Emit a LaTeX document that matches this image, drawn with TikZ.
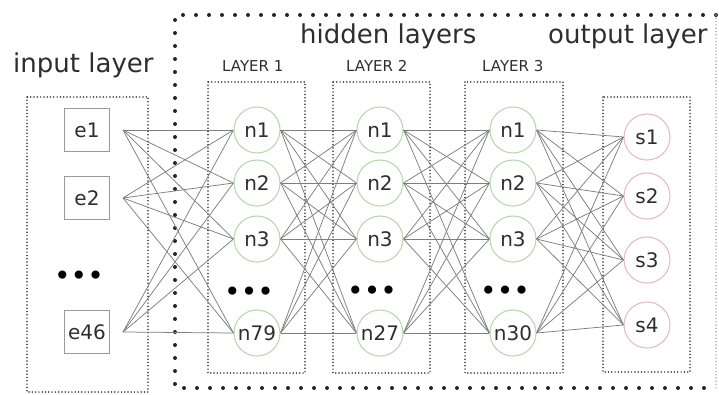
\documentclass[tikz,border=0pt]{standalone}
\usepackage{fontspec}
\setmainfont{DejaVu Sans}
\definecolor{txtgray}{HTML}{2E2E2E}
\definecolor{linegray}{HTML}{7E7E7E}
\definecolor{boxgray}{HTML}{999999}
\definecolor{hidgreen}{HTML}{B8D8B0}
\definecolor{outpink}{HTML}{E6BCC5}
\definecolor{framegray}{HTML}{333333}
\tikzset{
  inbox/.style={draw=boxgray, line width=1pt, minimum width=45pt, minimum height=43pt,
    inner sep=0pt, font=\fontsize{20}{20}\selectfont, text=txtgray},
  hidnode/.style={circle, draw=hidgreen, line width=1.1pt, minimum size=46pt, inner sep=0pt,
    font=\fontsize{20}{20}\selectfont, text=txtgray},
  outnode/.style={hidnode, draw=outpink},
  link/.style={draw=linegray, line width=0.75pt},
  layerbox/.style={draw=framegray, line width=1.7pt, dash pattern=on 0pt off 3.3pt, line cap=round},
  bigframe/.style={draw=black!85, line width=4pt, dash pattern=on 0pt off 13pt, line cap=round},
  heading/.style={font=\fontsize{26}{26}\selectfont, text=txtgray, inner sep=0pt, anchor=base west},
  sublabel/.style={font=\fontsize{15}{15}\selectfont, text=txtgray, inner sep=0pt, anchor=base west},
  moredots/.style={font=\fontsize{28}{28}\selectfont, text=black, inner sep=0pt}
}
\begin{document}
\begin{tikzpicture}[x=1pt, y=-1pt]
      \useasboundingbox (0,0) rectangle (719,394);
      % frames
      \draw[bigframe] (716,15) -- (175,15) -- (175,388) -- (716,388);
      \draw[layerbox, draw=framegray!40] (716,15) -- (716,388);
      \draw[layerbox] (27,97) rectangle (148,392);
      \draw[layerbox] (208,82) rectangle (305,373);
      \draw[layerbox] (333,82) rectangle (430,373);
      \draw[layerbox] (465,82) rectangle (563,373);
      \draw[layerbox] (603,97) rectangle (690,372);
      % titles
      \node[heading] (tin) at (13,72) {input layer};
      \node[heading] (thid) at (300,43) {hidden layers};
      \node[heading] (tout) at (548,43) {output layer};
      \node[sublabel] (tl1) at (222,71) {LAYER 1};
      \node[sublabel] (tl2) at (346,71) {LAYER 2};
      \node[sublabel] (tl3) at (482,71) {LAYER 3};
      % nodes
      \draw
        (87,130) node[inbox] (e1){e1}
        (87,198) node[inbox] (e2){e2}
        (79,278) node[moredots] (ed){•••}
        (87,332) node[inbox] (e46){e46}
        (257,130) node[hidnode] (a1){n1}
        (257,183) node[hidnode] (a2){n2}
        (257,239) node[hidnode] (a3){n3}
        (249,294) node[moredots] (ad){•••}
        (257,333) node[hidnode] (a79){n79}
        (380,130) node[hidnode] (b1){n1}
        (380,183) node[hidnode] (b2){n2}
        (380,239) node[hidnode] (b3){n3}
        (372,293) node[moredots] (bd){•••}
        (380,333) node[hidnode] (b27){n27}
        (513,130) node[hidnode] (c1){n1}
        (513,183) node[hidnode] (c2){n2}
        (513,239) node[hidnode] (c3){n3}
        (505,293) node[moredots] (cd){•••}
        (513,333) node[hidnode] (c30){n30}
        (647,137) node[outnode] (s1){s1}
        (647,196) node[outnode] (s2){s2}
        (647,260) node[outnode] (s3){s3}
        (647,325) node[outnode] (s4){s4};
      \begin{scope}[link]
        \draw ([xshift=13pt]e1.east) to (a1.west);
        \draw ([xshift=13pt]e1.east) to (a2.west);
        \draw ([xshift=13pt]e1.east) to (a3.west);
        \draw ([xshift=13pt]e1.east) to (a79.west);
        \draw ([xshift=13pt]e2.east) to (a1.west);
        \draw ([xshift=13pt]e2.east) to (a2.west);
        \draw ([xshift=13pt]e2.east) to (a3.west);
        \draw ([xshift=13pt]e2.east) to (a79.west);
        \draw ([xshift=13pt]e46.east) to (a1.west);
        \draw ([xshift=13pt]e46.east) to (a2.west);
        \draw ([xshift=13pt]e46.east) to (a3.west);
        \draw ([xshift=13pt]e46.east) to (a79.west);
        \draw (a1.east) to (b1.west);
        \draw (a1.east) to (b2.west);
        \draw (a1.east) to (b3.west);
        \draw (a1.east) to (b27.west);
        \draw (a2.east) to (b1.west);
        \draw (a2.east) to (b2.west);
        \draw (a2.east) to (b3.west);
        \draw (a2.east) to (b27.west);
        \draw (a3.east) to (b1.west);
        \draw (a3.east) to (b2.west);
        \draw (a3.east) to (b3.west);
        \draw (a3.east) to (b27.west);
        \draw (a79.east) to (b1.west);
        \draw (a79.east) to (b2.west);
        \draw (a79.east) to (b3.west);
        \draw (a79.east) to (b27.west);
        \draw (b1.east) to (c1.west);
        \draw (b1.east) to (c2.west);
        \draw (b1.east) to (c3.west);
        \draw (b1.east) to (c30.west);
        \draw (b2.east) to (c1.west);
        \draw (b2.east) to (c2.west);
        \draw (b2.east) to (c3.west);
        \draw (b2.east) to (c30.west);
        \draw (b3.east) to (c1.west);
        \draw (b3.east) to (c2.west);
        \draw (b3.east) to (c3.west);
        \draw (b3.east) to (c30.west);
        \draw (b27.east) to (c1.west);
        \draw (b27.east) to (c2.west);
        \draw (b27.east) to (c3.west);
        \draw (b27.east) to (c30.west);
        \draw (c1.east) to (s1.west);
        \draw (c1.east) to (s2.west);
        \draw (c1.east) to (s3.west);
        \draw (c1.east) to (s4.west);
        \draw (c2.east) to (s1.west);
        \draw (c2.east) to (s2.west);
        \draw (c2.east) to (s3.west);
        \draw (c2.east) to (s4.west);
        \draw (c3.east) to (s1.west);
        \draw (c3.east) to (s2.west);
        \draw (c3.east) to (s3.west);
        \draw (c3.east) to (s4.west);
        \draw (c30.east) to (s1.west);
        \draw (c30.east) to (s2.west);
        \draw (c30.east) to (s3.west);
        \draw (c30.east) to (s4.west);
      \end{scope}
    \end{tikzpicture}
\end{document}
